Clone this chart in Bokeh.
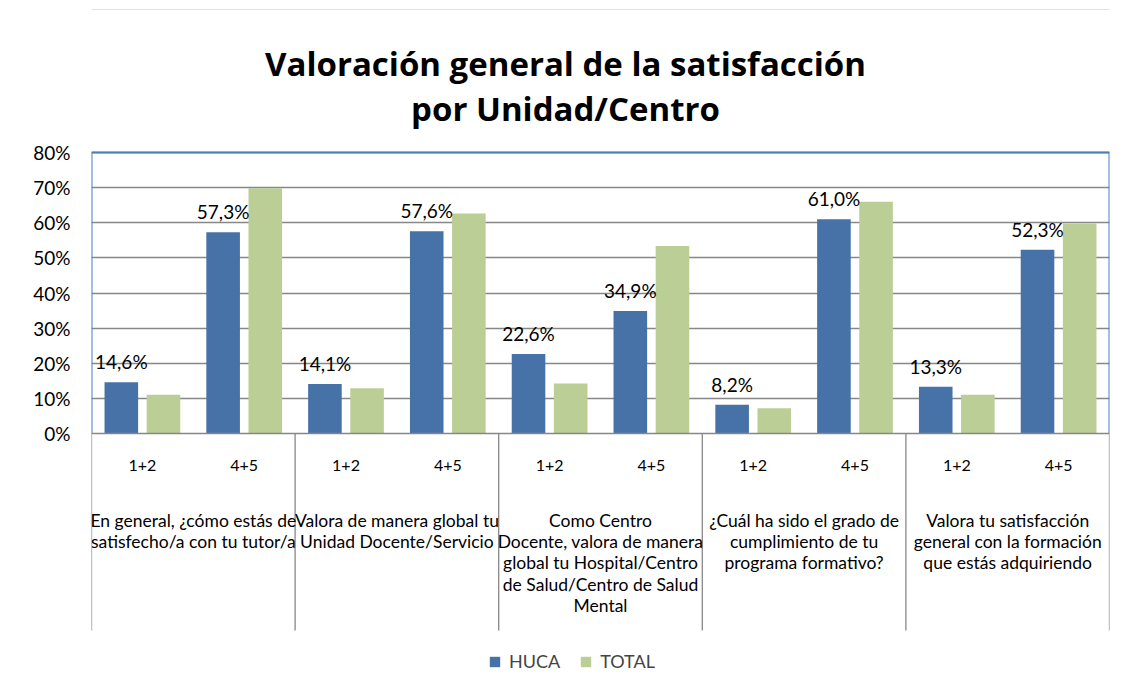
from bokeh.plotting import figure
from bokeh.models import (ColumnDataSource, Range1d, LinearAxis, FixedTicker, Grid,
                          NumeralTickFormatter, LabelSet, Legend, LegendItem, BoxAnnotation)
from bokeh.core.properties import value
from bokeh.embed import file_html
from bokeh.resources import INLINE

# ---------------- data ----------------
title_lines = ["Valoración general de la satisfacción", "por Unidad/Centro"]
sub_labels = ["1+2", "4+5"]
group_labels = [
    ["En general, ¿cómo estás de", "satisfecho/a con tu tutor/a"],
    ["Valora de manera global tu", "Unidad Docente/Servicio"],
    ["Como Centro", "Docente, valora de manera", "global tu Hospital/Centro",
     "de Salud/Centro de Salud", "Mental"],
    ["¿Cuál ha sido el grado de", "cumplimiento de tu", "programa formativo?"],
    ["Valora tu satisfacción", "general con la formación", "que estás adquiriendo"],
]
huca = [14.6, 57.3, 14.1, 57.6, 22.6, 34.9, 8.2, 61.0, 13.3, 52.3]
total = [11.0, 69.8, 12.9, 62.6, 14.2, 53.4, 7.2, 66.0, 11.0, 59.8]
series_names = ["HUCA", "TOTAL"]
y_ticks = [0, 10, 20, 30, 40, 50, 60, 70, 80]

# ---------------- styles / layout ----------------
C_HUCA = "#4672a8"
C_TOTAL = "#bbce96"
C_GRID = "#878787"
C_FRAME = "#4a7ebb"
FONT = "Lato"
TITLE_FONT = "Open Sans"

W, H = 1124, 690
PAGE_LEFT = 91
PAGE_RIGHT = 1109
PAGE_TOP80 = 152
PAGE_ZERO = 433
PAGE_SEP_END = 630
ML, MR = PAGE_LEFT, W - PAGE_RIGHT
n = len(huca)
ymax = y_ticks[-1] / 100.0

def x_from_page(px):
    return (px - PAGE_LEFT) / (PAGE_RIGHT - PAGE_LEFT) * n

def y_from_page(py):
    return ymax * (PAGE_ZERO - py) / (PAGE_ZERO - PAGE_TOP80)

p = figure(width=W, height=H, output_backend="svg", toolbar_location=None,
           x_range=Range1d(0, n), y_range=Range1d(y_from_page(H), y_from_page(0)),
           min_border_left=ML, min_border_right=MR,
           min_border_top=0, min_border_bottom=0,
           x_axis_type=None, y_axis_type=None)
p.background_fill_color = "white"
p.border_fill_color = "white"
p.outline_line_color = None

OFF = 0.207
BW = 0.33
xs = [i + 0.5 for i in range(n)]
src = ColumnDataSource(dict(
    xh=[x - OFF for x in xs],
    xt=[x + OFF for x in xs],
    huca=[v / 100.0 for v in huca],
    total=[v / 100.0 for v in total],
    lab=[("%.1f%%" % v).replace(".", ",") for v in huca],
))

# grid lines (drawn under bars)
grid_ticker = FixedTicker(ticks=[t / 100.0 for t in y_ticks[1:]])
p.add_layout(Grid(dimension=1, ticker=grid_ticker, grid_line_color=C_GRID,
                  grid_line_width=1.3))

rh = p.vbar(x="xh", top="huca", width=BW, source=src, fill_color=C_HUCA, line_color=None)
rt = p.vbar(x="xt", top="total", width=BW, source=src, fill_color=C_TOTAL, line_color=None)

# plot-area border (blue) on top/left/right, gray category axis line at 0
p.multi_line(xs=[[0, 0, n, n]], ys=[[0, ymax, ymax, 0]], line_color=C_FRAME, line_width=2)
p.segment(x0=[0], y0=[0], x1=[n], y1=[0], line_color=C_GRID, line_width=1.6)
# group separators below the axis
seps = [2 * g for g in range(len(group_labels) + 1)]
sep_end = y_from_page(PAGE_SEP_END)
p.segment(x0=seps, y0=[0] * len(seps), x1=seps, y1=[sep_end] * len(seps),
          line_color=C_GRID, line_width=1.3)

# y axis
yax = LinearAxis(ticker=FixedTicker(ticks=[t / 100.0 for t in y_ticks]),
                 formatter=NumeralTickFormatter(format="0%"))
yax.axis_line_color = None
yax.major_tick_line_color = None
yax.minor_tick_line_color = None
yax.major_label_standoff = 15
yax.major_label_text_font = FONT
yax.major_label_text_font_size = "19px"
yax.major_label_text_color = "#000000"
p.add_layout(yax, "left")

# sub-category labels
p.text(x=xs, y=[y_from_page(465)] * n, text=[sub_labels[i % 2] for i in range(n)],
       text_align="center", text_baseline="middle",
       text_font=value(FONT), text_font_size="16px", text_color="#000000")

# group labels, one text per line
gx, gy, gt = [], [], []
for g, lines in enumerate(group_labels):
    for k, line in enumerate(lines):
        gx.append(2 * g + 1)
        gy.append(y_from_page(520 + 21.2 * k))
        gt.append(line)
p.text(x=gx, y=gy, text=gt, text_align="center", text_baseline="middle",
       text_font=value(FONT), text_font_size="17.5px", text_color="#000000")

# data labels on HUCA
labels = LabelSet(x="xh", y="huca", text="lab", source=src,
                  text_align="center", text_baseline="alphabetic", y_offset=13,
                  text_font=value(FONT), text_font_size="19px", text_color="#000000")
p.add_layout(labels)

# title
p.text(x=[x_from_page(565)] * 2, y=[y_from_page(63), y_from_page(108)], text=title_lines,
       text_align="center", text_baseline="alphabetic",
       text_font=value(TITLE_FONT), text_font_size="33px", text_font_style="bold",
       text_color="#000000")

# legend
legend = Legend(items=[LegendItem(label=series_names[0], renderers=[rh]),
                       LegendItem(label=series_names[1], renderers=[rt])],
                orientation="horizontal", location=(397, 18),
                glyph_width=13, glyph_height=13, label_standoff=8, spacing=19,
                label_text_font=FONT, label_text_font_size="18px",
                border_line_color=None, background_fill_alpha=0, margin=0, padding=5)
p.add_layout(legend)

# outer chart-area border
p.add_layout(BoxAnnotation(left=5, right=W + 50, top=9, bottom=H + 50,
                           left_units="canvas", right_units="canvas",
                           top_units="canvas", bottom_units="canvas",
                           fill_alpha=0, line_color="#a0a0a0", line_width=1.2))

open("out.html", "w").write(file_html(p, INLINE))
